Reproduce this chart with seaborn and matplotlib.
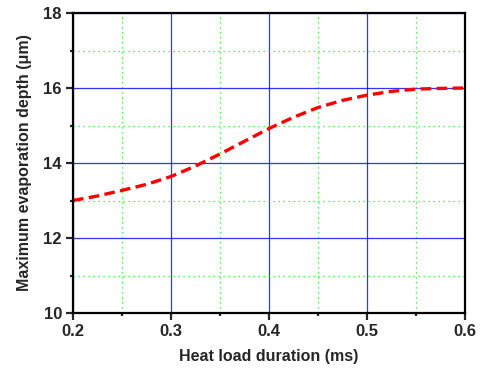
import matplotlib
matplotlib.use("Agg")
import matplotlib.pyplot as plt
import seaborn as sns
import pandas as pd
from matplotlib.ticker import MultipleLocator

duration_ms = [0.2, 0.225, 0.25, 0.275, 0.3, 0.325, 0.35, 0.375, 0.4, 0.425, 0.45,
               0.475, 0.5, 0.525, 0.55, 0.575, 0.6]
depth_um = [13.0, 13.12, 13.27, 13.43, 13.64, 13.92, 14.24, 14.58, 14.92, 15.22, 15.48,
            15.67, 15.81, 15.91, 15.97, 15.99, 16.0]

x_ticks = [0.2, 0.3, 0.4, 0.5, 0.6]
y_ticks = [10, 12, 14, 16, 18]

sns.set_style("white")
plt.rcParams['font.family'] = ['Liberation Sans', 'DejaVu Sans']

df = pd.DataFrame({"duration": duration_ms, "depth": depth_um})

fig = plt.figure(figsize=(4.81, 3.72), dpi=100)
ax = fig.add_axes([73/481, 1 - 313/372, (465-73)/481, (313-13)/372])

sns.lineplot(data=df, x="duration", y="depth", ax=ax, color="#ff0000",
             linewidth=2.4, dashes=False)
ax.lines[0].set_dashes((3.2, 1.6))

ax.set_xlim(0.2, 0.6)
ax.set_ylim(10, 18)
ax.set_xticks(x_ticks)
ax.set_yticks(y_ticks)
ax.set_xticklabels([f"{v:.1f}" for v in x_ticks])
ax.set_yticklabels([str(v) for v in y_ticks])
ax.xaxis.set_minor_locator(MultipleLocator(0.05))
ax.yaxis.set_minor_locator(MultipleLocator(1))

ax.grid(True, which="major", color="#0000ff", linewidth=0.9, linestyle="-", alpha=0.8)
ax.grid(True, which="minor", color="#22ee22", linewidth=0.9, linestyle=(0, (1, 3)))
ax.set_axisbelow(True)

for s in ax.spines.values():
    s.set_linewidth(1.6)
    s.set_color("black")

ax.tick_params(axis="both", which="major", direction="out", length=5, width=1.6,
               labelsize=12, pad=3, top=False, right=False, bottom=True, left=True)
ax.tick_params(axis="both", which="minor", direction="out", length=2.5, width=1.6,
               top=False, right=False, bottom=True, left=True)
for lbl in ax.get_xticklabels() + ax.get_yticklabels():
    lbl.set_fontweight("bold")

ax.set_xlabel("Heat load duration (ms)", fontsize=11.5, fontweight="bold", labelpad=7)
ax.set_ylabel("Maximum evaporation depth (\u03bcm)", fontsize=11.5, fontweight="bold", labelpad=8)

fig.savefig("out.png", dpi=100)
